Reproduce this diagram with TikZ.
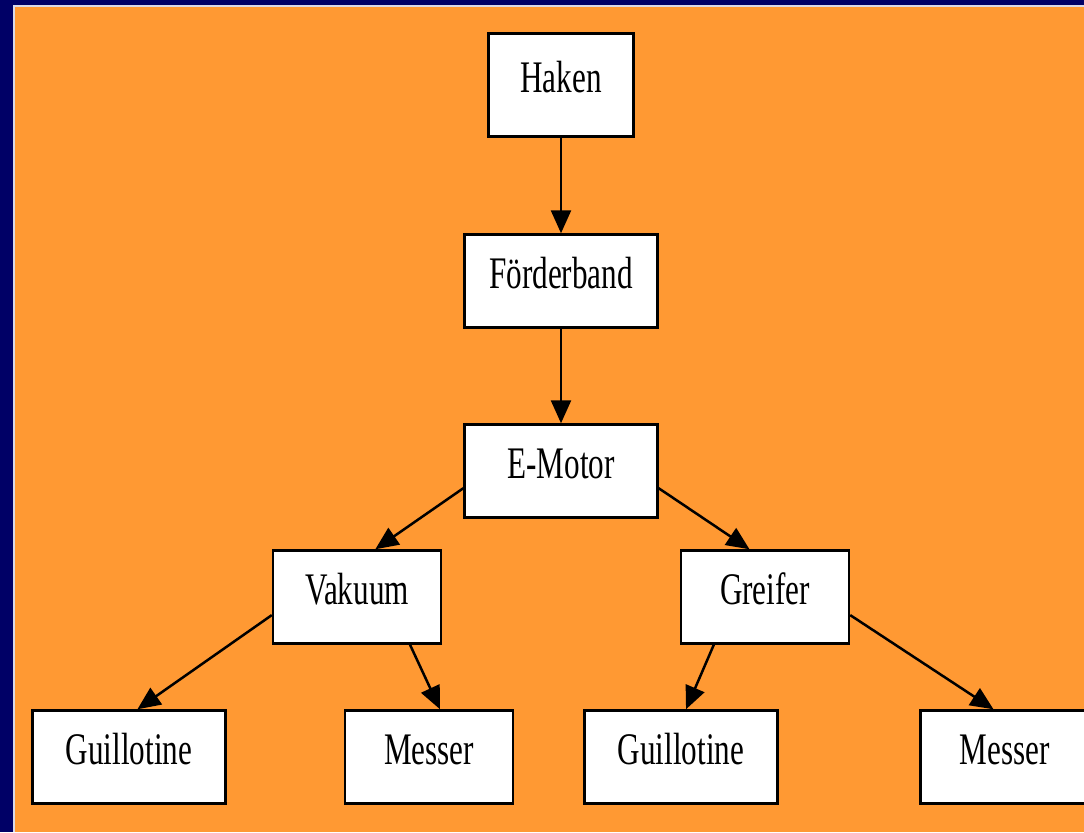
\documentclass[tikz,border=0pt]{standalone}
\usepackage{fontspec}
\setmainfont[FakeStretch=0.69]{Liberation Serif}
\usetikzlibrary{arrows.meta}
\definecolor{navy}{HTML}{000066}
\definecolor{paper}{HTML}{FF9933}
\tikzset{
  box/.style={draw, fill=white, line width=0.05cm, inner sep=0pt,
    text height=0.6cm, text depth=0.3cm, font=\fontsize{25.7}{30}\selectfont},
  widebox/.style={box, minimum width=3.86cm, minimum height=1.86cm},
  narrowbox/.style={box, minimum width=3.36cm, minimum height=1.86cm},
  link/.style={line width=0.05cm, -{Triangle[length=0.46cm,width=0.4cm]}}
}
\begin{document}
\begin{tikzpicture}[x=0.02cm, y=-0.02cm]
  \useasboundingbox (0,0) rectangle (1084,832);
  \clip (0,0) rectangle (1084,832);
  \fill [navy] (0,0) rectangle (1084,832);
  \fill [paper] (15,7) rectangle (1084,832);
  \draw [white!85!navy, line width=0.03cm] (14,832) |- (1084,6);

  \node [box, minimum width=2.9cm, minimum height=2.06cm] (haken) at (561,85) {Haken};
  \node [widebox] (band) at (561,281) {Förderband};
  \node [widebox] (motor) at (561,471) {E-Motor};
  \node [narrowbox] (vakuum) at (357,597) {Vakuum};
  \node [narrowbox] (greifer) at (765,597) {Greifer};
  \node [widebox] (guillL) at (129,757) {Guillotine};
  \node [narrowbox] (messerL) at (429,757) {Messer};
  \node [widebox] (guillR) at (681,757) {Guillotine};
  \node [narrowbox] (messerR) at (1004.5,757) {Messer};

  \draw [link] (haken) -- (band);
  \draw [link] (band) -- (motor);
  \draw [link] (motor.190) -- (vakuum.69);
  \draw [link] (motor.-10) -- (greifer.108);
  \draw [link] (vakuum.192) -- (guillL.80);
  \draw [link] (vakuum.-42) -- (messerL.77);
  \draw [link] (greifer.-137) -- (guillR.84);
  \draw [link] (greifer.-12) -- (messerR.103);
\end{tikzpicture}
\end{document}
